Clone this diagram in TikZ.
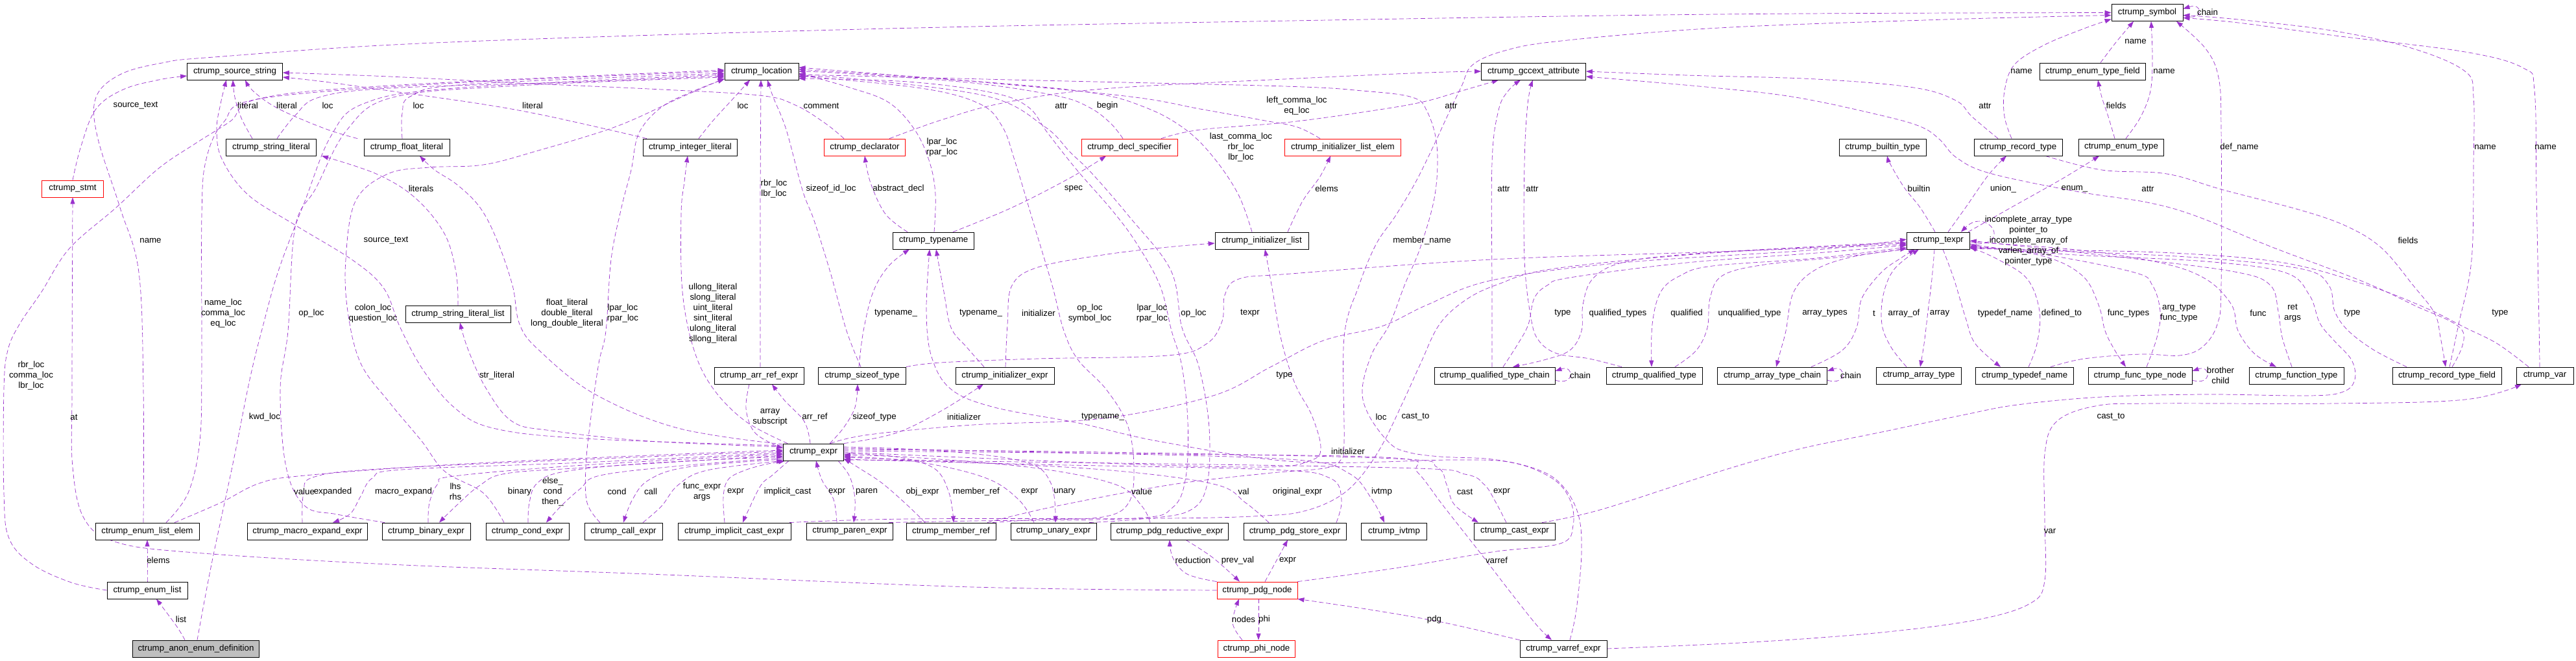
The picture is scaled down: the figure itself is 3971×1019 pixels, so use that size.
\documentclass[tikz,border=0pt]{standalone}
\usepackage{fontspec}
\setmainfont{Liberation Sans}
\usetikzlibrary{arrows.meta,calc}
\definecolor{orch}{RGB}{154,50,205}
\definecolor{gbox}{RGB}{191,191,191}
\pgfdeclarelayer{edges}
\pgfsetlayers{edges,main}
\tikzset{
 bx/.style={draw=black, line width=0.8pt, minimum height=26pt, inner sep=0pt, font=\fontsize{13.3}{16}\selectfont, fill=white},
 rbx/.style={bx, draw=red},
 lab/.style={font=\fontsize{13.3}{16}\selectfont, align=center, inner sep=0pt},
 e/.style={draw=orch, line width=0.7pt, dash pattern=on 7pt off 4pt, -{Triangle[length=10pt,width=7pt]}},
}
\newcommand\edg[1]{\draw[e] plot[smooth,tension=0.6] coordinates {#1};}
\begin{document}
\begin{tikzpicture}[x=1pt,y=-1pt]
\useasboundingbox (0,0) rectangle (3971,1019);
% ---------- nodes ----------
\node[bx,minimum width=110pt] (symbol) at (3310,19.5) {ctrump\_symbol};
\node[bx,minimum width=147pt] (srcstr) at (362,110) {ctrump\_source\_string};
\node[bx,minimum width=114pt] (location) at (1174,110) {ctrump\_location};
\node[bx,minimum width=161pt] (gccext) at (2364,110) {ctrump\_gccext\_attribute};
\node[bx,minimum width=163pt] (enumtypefield) at (3226,110) {ctrump\_enum\_type\_field};
\node[rbx,minimum width=95pt] (stmt) at (112,291) {ctrump\_stmt};
\node[bx,minimum width=139pt] (stringlit) at (418,227) {ctrump\_string\_literal};
\node[bx,minimum width=132pt] (floatlit) at (627,227) {ctrump\_float\_literal};
\node[bx,minimum width=145pt] (intlit) at (1064,227) {ctrump\_integer\_literal};
\node[rbx,minimum width=125pt] (declarator) at (1333,227) {ctrump\_declarator};
\node[rbx,minimum width=148pt] (declspec) at (1741,227) {ctrump\_decl\_specifier};
\node[rbx,minimum width=179pt] (initlistelem) at (2070,227) {ctrump\_initializer\_list\_elem};
\node[bx,minimum width=134pt] (builtin) at (2902,227) {ctrump\_builtin\_type};
\node[bx,minimum width=136pt] (recordtype) at (3111,227) {ctrump\_record\_type};
\node[bx,minimum width=131pt] (enumtype) at (3270,227) {ctrump\_enum\_type};
\node[bx,minimum width=125pt] (typename) at (1439,371) {ctrump\_typename};
\node[bx,minimum width=144pt] (initlist) at (1945,371) {ctrump\_initializer\_list};
\node[bx,minimum width=97pt] (texpr) at (2988,371) {ctrump\_texpr};
\node[bx,minimum width=162pt] (strlitlist) at (706,484) {ctrump\_string\_literal\_list};
\node[bx,minimum width=138pt] (arrref) at (1170,579) {ctrump\_arr\_ref\_expr};
\node[bx,minimum width=135pt] (sizeoftype) at (1329,579) {ctrump\_sizeof\_type};
\node[bx,minimum width=152pt] (initexpr) at (1549,579) {ctrump\_initializer\_expr};
\node[bx,minimum width=186pt] (qtchain) at (2304,579) {ctrump\_qualified\_type\_chain};
\node[bx,minimum width=148pt] (qtype) at (2550,579) {ctrump\_qualified\_type};
\node[bx,minimum width=169pt] (atchain) at (2732,579) {ctrump\_array\_type\_chain};
\node[bx,minimum width=131pt] (arraytype) at (2958,579) {ctrump\_array\_type};
\node[bx,minimum width=151pt] (typedefname) at (3121,579) {ctrump\_typedef\_name};
\node[bx,minimum width=160pt] (functypenode) at (3299,579) {ctrump\_func\_type\_node};
\node[bx,minimum width=146pt] (functiontype) at (3540,579) {ctrump\_function\_type};
\node[bx,minimum width=168pt] (recordfield) at (3772,579) {ctrump\_record\_type\_field};
\node[bx,minimum width=88pt] (var) at (3923,579) {ctrump\_var};
\node[bx,minimum width=93pt] (expr) at (1254,697) {ctrump\_expr};
\node[bx,minimum width=160pt] (enumlistelem) at (227,819) {ctrump\_enum\_list\_elem};
\node[bx,minimum width=185pt] (macroexpand) at (474,819) {ctrump\_macro\_expand\_expr};
\node[bx,minimum width=136pt] (binary) at (657,819) {ctrump\_binary\_expr};
\node[bx,minimum width=128pt] (cond) at (813,819) {ctrump\_cond\_expr};
\node[bx,minimum width=120pt] (call) at (961,819) {ctrump\_call\_expr};
\node[bx,minimum width=174pt] (implicitcast) at (1132,819) {ctrump\_implicit\_cast\_expr};
\node[bx,minimum width=133pt] (paren) at (1310,819) {ctrump\_paren\_expr};
\node[bx,minimum width=138pt] (memberref) at (1466,819) {ctrump\_member\_ref};
\node[bx,minimum width=132pt] (unary) at (1624,819) {ctrump\_unary\_expr};
\node[bx,minimum width=181pt] (pdgreductive) at (1803,819) {ctrump\_pdg\_reductive\_expr};
\node[bx,minimum width=158pt] (pdgstore) at (1996,819) {ctrump\_pdg\_store\_expr};
\node[bx,minimum width=101pt] (ivtmp) at (2149,819) {ctrump\_ivtmp};
\node[bx,minimum width=125pt] (castexpr) at (2335,819) {ctrump\_cast\_expr};
\node[bx,minimum width=124pt] (enumlist) at (227,910) {ctrump\_enum\_list};
\node[rbx,minimum width=124pt] (pdgnode) at (1938,910) {ctrump\_pdg\_node};
\node[bx,fill=gbox,minimum width=195pt] (anon) at (302,1000) {ctrump\_anon\_enum\_definition};
\node[rbx,minimum width=119pt] (phinode) at (1937,1000) {ctrump\_phi\_node};
\node[bx,minimum width=134pt] (varref) at (2410,1000) {ctrump\_varref\_expr};
% ---------- edges ----------
\begin{pgfonlayer}{edges}
\fill[white] (0,0) rectangle (3971,1019);
% to source string
\edg{(stmt.north) (125,225) (148,168) (190,138) (245,123) ([yshift=-7pt]srcstr.west)}
\edg{([xshift=-29pt]stringlit.north) (372,182) (362,150) ([xshift=-3pt]srcstr.south)}
\edg{([xshift=-76pt]floatlit.north) (500,198) (430,168) (392,142) ([xshift=16pt]srcstr.south)}
\edg{([yshift=10pt]expr.west) (900,676) (760,660) (700,628) (652,570) (617,505) (592,445) (545,402) (455,347) (382,300) (342,245) (334,200) (340,160) ([xshift=-13pt]srcstr.south)}
\edg{([xshift=-67pt]intlit.north) (930,198) (830,176) (740,160) (600,140) (500,126) ([yshift=-9pt]srcstr.east)}
\edg{([xshift=-32pt]declarator.north) (1272,190) (1226,162) (1170,147) (1000,137) (800,128) (600,118) ([yshift=-2pt]srcstr.east)}
% to location (left)
\edg{(enumlist.west) (110,898) (50,870) (14,830) (6,760) (6,600) (12,540) (30,500) (64,450) (107,383) (179,320) (244,260) (300,222) (355,187) (400,152) (600,132) ([yshift=2pt]location.west)}
\edg{([xshift=29pt]enumlistelem.north) (290,760) (308,680) (311,560) (311,330) (318,245) (345,188) (402,152) (700,128) (location.west)}
\edg{([xshift=-7pt]floatlit.north) (620,175) (634,148) (720,130) ([yshift=-3pt]location.west)}
\edg{([xshift=2pt]anon.north) (326,870) (360,710) (385,585) (406,500) (430,415) (470,310) (510,210) (560,160) (700,136) ([yshift=-5pt]location.west)}
\edg{([xshift=9pt]stringlit.north) (455,178) (492,150) (600,136) (900,126) ([yshift=-7pt]location.west)}
\edg{([xshift=-64pt]binary.north) (520,793) (470,780) (441,720) (432,600) (444,510) (455,350) (487,290) (535,200) (606,150) (800,132) ([yshift=-9pt]location.west)}
\edg{([xshift=-36pt]cond.north) (745,760) (686,727) (650,680) (600,620) (556,560) (536,480) (533,400) (548,310) (598,268) (662,258) (745,254) (830,232) (950,195) (1050,150) ([yshift=-11pt]location.west)}
\edg{([xshift=-36pt]call.north) (905,775) (903,720) (910,650) (923,560) (934,510) (942,400) (958,320) (973,262) (985,205) (1020,165) (1070,140) ([yshift=-12pt]location.west)}
% location (bottom)
\edg{([xshift=13pt]intlit.north) (1100,185) (1132,150) ([xshift=-18pt]location.south)}
\edg{([xshift=2pt]arrref.north) (1172,450) (1172,300) ([xshift=-1pt]location.south)}
\edg{([xshift=-2pt]sizeoftype.north) (1305,510) (1280,420) (1255,340) (1237,293) (1212,200) (1192,150) ([xshift=9pt]location.south)}
% location (right)
\edg{([xshift=1pt]typename.north) (1442,300) (1433,250) (1410,200) (1370,158) (1310,135) ([yshift=-3pt]location.east)}
\edg{([xshift=-10pt]declspec.north) (1712,190) (1680,166) (1630,148) (1500,128) (1300,113) (location.east)}
\edg{([xshift=-15pt]initlist.north) (1909,300) (1871,243) (1828,200) (1769,167) (1683,143) (1500,125) ([yshift=3pt]location.east)}
\edg{([xshift=-35pt]initlistelem.north) (2000,196) (1950,186) (1850,168) (1750,150) (1550,130) ([yshift=6pt]location.east)}
\edg{([xshift=10pt]varref.north) (2430,940) (2438,850) (2432,790) (2405,745) (2365,722) (2300,708) (2220,704) (2170,697) (2142,683) (2110,640) (2100,600) (2115,545) (2142,500) (2165,440) (2190,380) (2212,300) (2215,225) (2200,172) (2177,150) (2100,140) (1980,133) (1600,124) ([yshift=-5pt]location.east)}
\edg{([xshift=64pt]memberref.north) (1600,801) (1700,797) (1740,775) (1748,720) (1738,655) (1705,600) (1662,555) (1640,510) (1622,440) (1595,350) (1565,250) (1545,195) (1510,160) (1420,136) ([yshift=-7pt]location.east)}
\edg{([xshift=55pt]unary.north) (1760,800) (1832,788) (1860,750) (1864,660) (1848,565) (1822,505) (1805,417) (1740,333) (1683,267) (1650,235) (1610,195) (1520,148) (1300,120) ([yshift=-9pt]location.east)}
\edg{([xshift=60pt]paren.north) (1500,803) (1750,799) (1808,782) (1828,735) (1831,650) (1822,565) (1806,510) (1788,440) (1752,375) (1715,325) (1660,262) (1615,205) (1585,165) (1530,143) (1400,126) ([yshift=-11pt]location.east)}
% declarator / specifier / typename
\edg{([xshift=-40pt]typename.north) (1365,330) (1342,282) (declarator.south)}
\edg{([xshift=30pt]typename.north) (1560,320) (1650,274) ([xshift=-36pt]declspec.south)}
\edg{([xshift=38pt]declarator.north) (1457,183) (1550,158) (1700,137) (2000,121) (2200,112) (gccext.west)}
\edg{([xshift=49pt]declspec.north) (1850,200) (1990,188) (2120,170) (2194,157) (2250,141) ([xshift=-54pt]gccext.south)}
% initializer
\edg{([xshift=40pt]initlist.north) (2008,310) (2035,272) ([xshift=-19pt]initlistelem.south)}
\edg{([xshift=1pt]initexpr.north) (1553,500) (1560,440) (1600,412) (1700,393) (1800,381) ([yshift=-4pt]initlist.west)}
\edg{([xshift=-5pt]sizeoftype.north) (1331,510) (1346,450) (1370,410) ([xshift=-37pt]typename.south)}
\edg{([xshift=-32pt]initexpr.north) (1490,535) (1466,505) (1455,450) ([xshift=4pt]typename.south)}
\edg{(pdgnode.north east) (2150,876) (2300,851) (2405,838) (2425,810) (2420,770) (2392,737) (2330,713) (2240,709) (2000,712) (1790,681) (1662,652) (1533,628) (1466,600) (1436,550) (1428,480) ([xshift=-6pt]typename.south)}
\edg{(sizeoftype.north east) (1450,559) (1600,553) (1800,548) (1860,530) (1884,495) (1888,455) (1910,430) (1990,422) (2300,400) (2650,388) ([yshift=-6pt]texpr.west)}
\edg{(expr.east) (1700,714) (1950,720) (2020,710) (2036,690) (2022,640) (2000,600) (1985,560) (1972,510) (1962,450) ([xshift=5pt]initlist.south)}
% expr upward
\edg{([xshift=-15pt]arrref.south) (1150,630) (1162,665) (1190,684) ([yshift=6pt]expr.west)}
\edg{([xshift=-5pt]expr.north) (1240,650) (1210,618) ([xshift=20pt]arrref.south)}
\edg{([xshift=25pt]expr.north) (1300,660) (1318,628) ([xshift=-7pt]sizeoftype.south)}
\edg{(expr.north east) (1380,668) (1450,634) ([xshift=-33pt]initexpr.south)}
\edg{([xshift=-40pt]expr.north) (1150,650) (1100,600) (1070,540) (1052,450) (1050,330) (1055,280) ([xshift=-4pt]intlit.south)}
\edg{([yshift=12pt]expr.west) (1045,660) (916,607) (831,540) (801,500) (790,440) (766,370) (740,320) (705,285) (670,262) ([xshift=20pt]floatlit.south)}
\edg{([yshift=8pt]expr.west) (1000,680) (850,664) (790,650) (750,600) (722,540) ([xshift=3pt]strlitlist.south)}
\edg{(strlitlist.north) (703,420) (685,360) (640,305) (580,268) ([xshift=78pt]stringlit.south)}
% bottom row
\edg{([xshift=42pt]enumlistelem.north) (340,775) (400,745) (470,733) (700,716) (1000,702) ([yshift=3pt]expr.west)}
\edg{([xshift=-8pt]macroexpand.north) (468,760) (485,735) (600,722) (1000,704) ([yshift=1pt]expr.west)}
\edg{([yshift=-1pt]expr.west) (900,713) (620,724) (574,737) (556,765) (540,792) ([xshift=39pt]macroexpand.north)}
\edg{([xshift=3pt]binary.north) (662,775) (675,746) (700,734) (900,717) ([yshift=-3pt]expr.west)}
\edg{([yshift=-5pt]expr.west) (900,721) (780,730) (740,748) (705,778) ([xshift=20pt]binary.north)}
\edg{([xshift=1pt]cond.north) (816,775) (828,745) (870,727) (1000,714) ([yshift=-7pt]expr.west)}
\edg{([yshift=-9pt]expr.west) (1050,718) (925,733) (895,753) (865,780) ([xshift=29pt]cond.north)}
\edg{([yshift=-11pt]expr.west) (1060,720) (1000,740) (975,770) (call.north)}
\edg{([xshift=30pt]call.north) (1020,780) (1045,748) (1090,725) (expr.south west)}
\edg{([xshift=-15pt]implicitcast.north) (1115,766) (1122,740) (1143,727) (1175,717) ([xshift=-44pt]expr.south)}
\edg{([xshift=-38pt]expr.south) (1190,733) (1173,748) (1152,790) ([xshift=13pt]implicitcast.north)}
\edg{([xshift=-20pt]paren.north) (1285,770) (1267,740) ([xshift=4pt]expr.south)}
\edg{([xshift=38pt]expr.south) (1310,735) (1318,770) ([xshift=6pt]paren.north)}
\edg{([xshift=-40pt]memberref.north) (1400,780) (1360,745) (1325,722) ([yshift=-10pt]expr.east)}
\edg{([yshift=-2pt]expr.east) (1380,704) (1440,722) (1463,760) ([xshift=4pt]memberref.north)}
\edg{([xshift=-30pt]unary.north) (1570,770) (1520,737) (1420,713) ([yshift=-6pt]expr.east)}
\edg{([yshift=8pt]expr.east) (1450,695) (1580,712) (1620,745) ([xshift=3pt]unary.north)}
\edg{([xshift=-30pt]pdgreductive.north) (1760,780) (1720,747) (1600,722) (1420,706) ([yshift=-4pt]expr.east)}
\edg{([xshift=-40pt]pdgstore.north) (1920,775) (1870,746) (1700,724) (1450,711) ([yshift=-8pt]expr.east)}
\edg{([xshift=64pt]pdgstore.north) (2068,770) (2050,737) (1960,724) (1600,716) ([yshift=-11pt]expr.east)}
\edg{([yshift=6pt]expr.east) (1700,699) (2000,709) (2080,730) (2115,770) ([xshift=-15pt]ivtmp.north)}
\edg{([yshift=4pt]expr.east) (1700,697) (2150,707) (2215,720) (2230,747) (2242,778) ([xshift=-56pt]castexpr.north)}
\edg{([xshift=-13pt]castexpr.north) (2305,773) (2288,747) (2258,731) (2150,721) (1500,711) ([yshift=-12pt]expr.east)}
\edg{([yshift=2pt]expr.east) (1800,700) (2150,706) (2185,728) (2225,780) (2280,850) (2330,915) (2370,965) ([xshift=-18pt]varref.north)}
\edg{([xshift=26pt]expr.north) (1340,670) (1500,655) (1700,645) (1870,610) (1960,565) (2040,525) (2130,503) (2200,470) (2300,432) (2500,405) (2800,385) ([yshift=2pt]texpr.west)}
\edg{([xshift=85pt]implicitcast.north) (1400,800) (1800,799) (1950,795) (2010,788) (2060,768) (2095,738) (2130,687) (2164,617) (2190,560) (2219,500) (2260,462) (2310,438) (2390,415) (2600,393) (2800,381) ([yshift=-4pt]texpr.west)}
\edg{([xshift=56pt]memberref.north) (1620,782) (1800,748) (1950,730) (2040,722) (2066,710) (2072,680) (2072,520) (2095,440) (2121,377) (2151,333) (2181,283) (2206,233) (2232,177) (2253,133) (2270,100) (2320,78) (2407,63) (2650,43) (3000,30) ([yshift=-4pt]symbol.west)}
\edg{([xshift=-6pt]enumlistelem.north) (221,600) (214,420) (185,320) (150,210) (148,150) (185,115) (250,97) (330,88) (670,66) (1330,45) (1990,32) (2650,22) (symbol.west)}
% pdg
\edg{(pdgnode.north west) (1830,885) (1808,860) (pdgreductive.south)}
\edg{([xshift=25pt]pdgreductive.south) (1870,860) ([xshift=-27pt]pdgnode.north)}
\edg{([xshift=12pt]pdgnode.north) (1970,860) ([xshift=-11pt]pdgstore.south)}
\edg{([xshift=-22pt]phinode.north) (1900,960) ([xshift=-28pt]pdgnode.south)}
\edg{([xshift=2pt]pdgnode.south) ([xshift=3pt]phinode.north)}
\edg{(varref.north west) (2250,965) (2190,953) (2100,938) (pdgnode.south east)}
\edg{(pdgnode.west) (1500,905) (1000,885) (600,870) (300,852) (180,836) (130,800) (112,720) (111,600) (stmt.south)}
% enum
\edg{([xshift=-17pt]anon.north) (272,965) ([xshift=14pt]enumlist.south)}
\edg{(enumlist.north) (enumlistelem.south)}
% var / cast_to
\edg{(varref.east) (2700,990) (2900,975) (3050,955) (3130,930) (3152,895) (3152,800) (3152,700) (3170,650) (3230,626) (3320,622) (3600,622) (3800,616) ([xshift=-36pt]var.south)}
\edg{([xshift=42pt]castexpr.north) (2470,785) (2650,727) (2770,693) (2896,667) (3025,640) (3110,624) (3240,612) (3400,608) (3560,610) (3612,604) (3630,585) (3625,555) (3598,525) (3576,498) (3560,455) (3522,420) (3400,403) (3200,393) ([yshift=-9pt]texpr.east)}
% gccext
\edg{([xshift=-4pt]qtchain.north) (2300,450) (2300,250) (2310,170) (2325,140) ([xshift=-20pt]gccext.south)}
\edg{([xshift=-50pt]qtype.north) (2450,553) (2400,545) (2372,525) (2360,490) (2350,400) (2350,250) (2355,160) ([xshift=-1pt]gccext.south)}
\edg{([xshift=-31pt]recordtype.north) (3040,180) (3015,155) (2950,135) (2800,122) (2600,116) (gccext.east)}
\edg{([xshift=8pt]recordfield.north) (3796,510) (3720,470) (3640,433) (3500,380) (3385,333) (3310,312) (3200,295) (3067,267) (3016,243) (2990,215) (2960,195) (2896,177) (2768,150) (2640,135) ([yshift=-8pt]gccext.east)}
\edg{([xshift=42pt]recordtype.south) (3240,262) (3340,268) (3428,293) (3550,325) (3620,350) (3672,383) (3720,440) (3753,483) (3762,520) ([xshift=-2pt]recordfield.north)}
\edg{([xshift=-62pt]recordfield.north) (3660,540) (3620,510) (3599,480) (3590,440) (3550,415) (3400,398) (3200,388) ([yshift=-12pt]texpr.east)}
\edg{([xshift=-25pt]var.north) (3850,530) (3800,505) (3740,475) (3650,440) (3520,405) (3350,390) (3150,385) ([yshift=-11pt]texpr.east)}
% symbol
\edg{([xshift=4pt]recordfield.north) (3790,500) (3810,400) (3813,250) (3813,150) (3800,110) (3720,75) (3600,48) (3450,30) ([yshift=-4pt]symbol.east)}
\edg{([xshift=-8pt]var.north) (3914,500) (3910,300) (3907,140) (3890,105) (3800,80) (3600,55) (3450,35) ([yshift=-8pt]symbol.east)}
\edg{([xshift=12pt]enumtypefield.north) (3262,65) ([xshift=-21pt]symbol.south)}
\edg{([xshift=-10pt]recordtype.north) (3090,180) (3090,140) (3105,100) (3150,70) (3210,45) ([yshift=-10pt]symbol.west)}
\edg{([xshift=7pt]enumtype.north) (3300,180) (3315,140) (3318,90) ([xshift=6pt]symbol.south)}
\edg{([xshift=40pt]typedefname.north) (3213,553) (3300,546) (3360,548) (3395,535) (3418,500) (3424,440) (3424,200) (3420,120) (3400,75) ([xshift=45pt]symbol.south)}
\edg{([xshift=-10pt]enumtype.north) (3250,180) (3240,150) ([xshift=8pt]enumtypefield.south)}
% texpr
\edg{([xshift=-5pt]texpr.north) (2960,320) (2936,290) (2915,255) ([xshift=7pt]builtin.south)}
\edg{([xshift=15pt]texpr.north) (3030,320) (3065,270) ([xshift=-18pt]recordtype.south)}
\edg{([xshift=-3pt]texpr.north east) (3100,320) (3180,275) ([xshift=-34pt]enumtype.south)}
\edg{([yshift=-2pt]texpr.west) (2800,380) (2600,392) (2500,405) (2455,430) (2440,470) (2438,510) (2420,540) (2380,555) ([xshift=28pt]qtchain.north)}
\edg{([xshift=13pt]qtchain.north) (2340,530) (2356,500) (2365,460) (2385,440) (2420,428) (2600,405) (2800,390) ([yshift=-7pt]texpr.west)}
\edg{([yshift=-10pt]texpr.west) (2800,398) (2640,410) (2590,425) (2560,450) (2547,500) ([xshift=-4pt]qtype.north)}
\edg{([xshift=32pt]qtype.north) (2615,540) (2632,505) (2636,460) (2655,425) (2720,408) (2850,395) ([yshift=-12pt]texpr.west)}
\edg{(texpr.south west) (2860,395) (2800,415) (2765,450) (2753,510) (2745,540) ([xshift=6pt]atchain.north)}
\edg{([xshift=60pt]atchain.north) (2840,540) (2862,505) (2870,460) (2900,420) (2930,398) ([xshift=-36pt]texpr.south)}
\edg{([xshift=-19pt]arraytype.north) (2915,535) (2901,500) (2903,455) (2920,415) ([xshift=-30pt]texpr.south)}
\edg{([xshift=-6pt]texpr.south) (2978,430) (2972,480) (2966,530) ([xshift=2pt]arraytype.north)}
\edg{([xshift=7pt]texpr.south) (3012,430) (3030,490) (3045,530) ([xshift=-37pt]typedefname.north)}
\edg{([xshift=6pt]typedefname.north) (3140,530) (3144,480) (3125,430) (3080,400) ([yshift=-10pt]texpr.east)}
\edg{([yshift=-6pt]texpr.east) (3150,395) (3210,425) (3235,470) (3245,510) (3260,540) ([xshift=-22pt]functypenode.north)}
\edg{([xshift=10pt]functypenode.north) (3325,520) (3330,480) (3318,440) (3290,420) (3150,392) ([yshift=-8pt]texpr.east)}
\edg{([yshift=-2pt]texpr.east) (3200,385) (3330,405) (3400,430) (3440,470) (3450,510) (3475,545) ([xshift=-31pt]functiontype.north)}
\edg{([xshift=-7pt]functiontype.north) (3518,520) (3512,480) (3500,440) (3450,420) (3300,400) (texpr.east)}
% self loops
\draw[e] ([yshift=-4pt]symbol.east) .. controls +(32,12) and +(32,-10) .. ([yshift=6pt]symbol.east);
\draw[e] ([yshift=-7pt]qtchain.east) .. controls +(30,10) and +(30,-10) .. ([yshift=7pt]qtchain.east);
\draw[e] ([yshift=-7pt]atchain.east) .. controls +(30,10) and +(30,-10) .. ([yshift=7pt]atchain.east);
\draw[e] ([yshift=-7pt]functypenode.east) .. controls +(30,10) and +(30,-10) .. ([yshift=7pt]functypenode.east);
\draw[e] ([yshift=-5pt]texpr.east) .. controls +(70,5) and +(40,-40) .. ([xshift=-14pt]texpr.north east);
\end{pgfonlayer}
% ---------- labels ----------
\node[lab] (l1) at (209,163) {source\_text};
\node[lab] (l2) at (382,163) {literal};
\node[lab] (l3) at (442,163) {literal};
\node[lab] (l4) at (505,163) {loc};
\node[lab] (l5) at (645,163) {loc};
\node[lab] (l6) at (649,291) {literals};
\node[lab] (l7) at (232,371) {name};
\node[lab] (l8) at (595,371) {source\_text};
\node[lab] (l9) at (344,483) {name\_loc\\comma\_loc\\eq\_loc};
\node[lab] (l10) at (480,483) {op\_loc};
\node[lab] (l11) at (575,483) {colon\_loc\\question\_loc};
\node[lab] (l12) at (821,163) {literal};
\node[lab] (l13) at (1145,163) {loc};
\node[lab] (l14) at (1266,163) {comment};
\node[lab] (l15) at (1193,291) {rbr\_loc\\lbr\_loc};
\node[lab] (l16) at (1281,291) {sizeof\_id\_loc};
\node[lab] (l17) at (874,483) {float\_literal\\double\_literal\\long\_double\_literal};
\node[lab] (l18) at (960,483) {lpar\_loc\\rpar\_loc};
\node[lab] (l19) at (1099,483) {ullong\_literal\\slong\_literal\\uint\_literal\\sint\_literal\\ulong\_literal\\sllong\_literal};
\node[lab] (l20) at (1636,163) {attr};
\node[lab] (l21) at (1707,163) {begin};
\node[lab] (l22) at (1999,163) {left\_comma\_loc\\eq\_loc};
\node[lab] (l23) at (1913,227) {last\_comma\_loc\\rbr\_loc\\lbr\_loc};
\node[lab] (l24) at (1452,227) {lpar\_loc\\rpar\_loc};
\node[lab] (l25) at (1385,291) {abstract\_decl};
\node[lab] (l26) at (1655,291) {spec};
\node[lab] (l27) at (1381,483) {typename\_};
\node[lab] (l28) at (1512,483) {typename\_};
\node[lab] (l29) at (1601,483) {initializer};
\node[lab] (l30) at (1680,483) {op\_loc\\symbol\_loc};
\node[lab] (l31) at (1776,483) {lpar\_loc\\rpar\_loc};
\node[lab] (l32) at (1840,483) {op\_loc};
\node[lab] (l33) at (1927,483) {texpr};
\node[lab] (l34) at (2237,163) {attr};
\node[lab] (l35) at (2045,291) {elems};
\node[lab] (l36) at (2318,291) {attr};
\node[lab] (l37) at (2362,291) {attr};
\node[lab] (l38) at (2192,371) {member\_name};
\node[lab] (l39) at (2409,483) {type};
\node[lab] (l40) at (2494,483) {qualified\_types};
\node[lab] (l41) at (2600,483) {qualified};
\node[lab] (l42) at (3292,64) {name};
\node[lab] (l43) at (3116,110) {name};
\node[lab] (l44) at (3060,163) {attr};
\node[lab] (l45) at (3262,163) {fields};
\node[lab] (l46) at (2958,291) {builtin};
\node[lab] (l47) at (3088,291) {union\_};
\node[lab] (l48) at (3198,291) {enum\_};
\node[lab] (l49) at (3311,291) {attr};
\node[lab] (l50) at (3127,371) {incomplete\_array\_type\\pointer\_to\\incomplete\_array\_of\\varlen\_array\_of\\pointer\_type};
\node[lab] (l51) at (2697,483) {unqualified\_type};
\node[lab] (l52) at (2813,483) {array\_types};
\node[lab] (l53) at (2889,483) {t};
\node[lab] (l54) at (2935,483) {array\_of};
\node[lab] (l55) at (2990,483) {array};
\node[lab] (l56) at (3091,483) {typedef\_name};
\node[lab] (l57) at (3178,483) {defined\_to};
\node[lab] (l58) at (3281,483) {func\_types};
\node[lab] (l59) at (3403,19) {chain};
\node[lab] (l60) at (3336,110) {name};
\node[lab] (l61) at (3452,227) {def\_name};
\node[lab] (l62) at (3831,227) {name};
\node[lab] (l63) at (3924,227) {name};
\node[lab] (l64) at (3712,371) {fields};
\node[lab] (l65) at (3359,483) {arg\_type\\func\_type};
\node[lab] (l66) at (3481,483) {func};
\node[lab] (l67) at (3534,483) {ret\\args};
\node[lab] (l68) at (3626,483) {type};
\node[lab] (l69) at (3854,483) {type};
\node[lab] (l70) at (48,579) {rbr\_loc\\comma\_loc\\lbr\_loc};
\node[lab] (l71) at (114,643) {at};
\node[lab] (l72) at (408,643) {kwd\_loc};
\node[lab] (l73) at (469,758) {value};
\node[lab] (l74) at (513,758) {expanded};
\node[lab] (l75) at (622,758) {macro\_expand};
\node[lab] (l76) at (244,864) {elems};
\node[lab] (l77) at (279,955) {list};
\node[lab] (l78) at (766,579) {str\_literal};
\node[lab] (l79) at (1187,643) {array\\subscript};
\node[lab] (l80) at (1256,643) {arr\_ref};
\node[lab] (l81) at (1348,643) {sizeof\_type};
\node[lab] (l82) at (702,758) {lhs\\rhs};
\node[lab] (l83) at (801,758) {binary};
\node[lab] (l84) at (852,758) {else\_\\cond\\then\_};
\node[lab] (l85) at (951,758) {cond};
\node[lab] (l86) at (1003,758) {call};
\node[lab] (l87) at (1082,758) {func\_expr\\args};
\node[lab] (l88) at (1134,758) {expr};
\node[lab] (l89) at (1214,758) {implicit\_cast};
\node[lab] (l90) at (1290,758) {expr};
\node[lab] (l91) at (1336,758) {paren};
\node[lab] (l92) at (1486,643) {initializer};
\node[lab] (l93) at (1700,643) {typename\_};
\node[lab] (l94) at (1422,758) {obj\_expr};
\node[lab] (l95) at (1505,758) {member\_ref};
\node[lab] (l96) at (1587,758) {expr};
\node[lab] (l97) at (1641,758) {unary};
\node[lab] (l98) at (1760,758) {value};
\node[lab] (l99) at (1917,758) {val};
\node[lab] (l100) at (2000,758) {original\_expr};
\node[lab] (l101) at (1839,864) {reduction};
\node[lab] (l102) at (1908,864) {prev\_val};
\node[lab] (l103) at (1985,864) {expr};
\node[lab] (l104) at (1917,955) {nodes};
\node[lab] (l105) at (1949,955) {phi};
\node[lab] (l106) at (1980,579) {type};
\node[lab] (l107) at (2436,579) {chain};
\node[lab] (l108) at (2129,643) {loc};
\node[lab] (l109) at (2182,643) {cast\_to};
\node[lab] (l110) at (2078,696) {initializer};
\node[lab] (l111) at (2130,758) {ivtmp};
\node[lab] (l112) at (2258,758) {cast};
\node[lab] (l113) at (2315,758) {expr};
\node[lab] (l114) at (2307,864) {varref};
\node[lab] (l115) at (2211,955) {pdg};
\node[lab] (l116) at (2853,579) {chain};
\node[lab] (l117) at (3254,643) {cast\_to};
\node[lab] (l118) at (3160,819) {var};
\node[lab] (l119) at (3423,579) {brother\\child};
\end{tikzpicture}
\end{document}
